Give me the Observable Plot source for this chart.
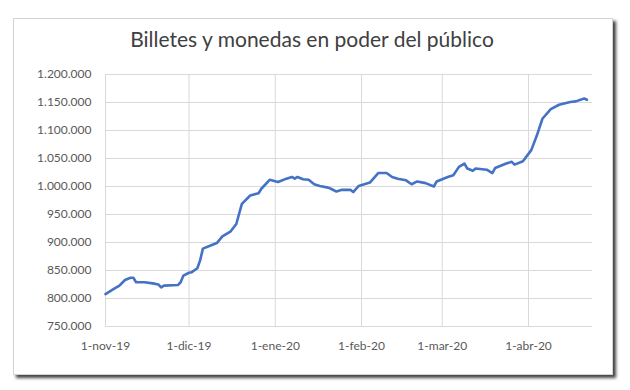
<!DOCTYPE html>
<html>
<head>
<meta charset="utf-8">
<script src="https://cdn.jsdelivr.net/npm/d3@7"></script>
<script src="https://cdn.jsdelivr.net/npm/@observablehq/plot@0.6"></script>
<style>
  html, body { margin: 0; padding: 0; background: #fff; }
  #wrap { position: relative; width: 630px; height: 390px; overflow: hidden; background: #fff; }
  #frame { position: absolute; left: 13px; top: 18px; width: 598px; height: 355px;
           border: 1px solid #d4d4d4; box-shadow: 3px 3px 3px #444; background: #fff; }
  #title { position: absolute; left: 0; top: 26px; width: 624px; text-align: center;
           font-family: Lato, "Open Sans", sans-serif; font-size: 21px; color: #404040; }
  #chart { position: absolute; left: 0; top: 60px; }
</style>
</head>
<body>
<div id="wrap">
  <div id="frame"></div>
  <div id="title">Billetes y monedas en poder del público</div>
  <div id="chart"></div>
</div>
<script>
// Series: fecha / billetes y monedas en poder del público (miles de $)
const dates = [
  "2019-11-01","2019-11-04","2019-11-06","2019-11-08","2019-11-10","2019-11-11","2019-11-12",
  "2019-11-15","2019-11-18","2019-11-20","2019-11-21","2019-11-22","2019-11-27","2019-11-28",
  "2019-11-29","2019-12-01","2019-12-02","2019-12-04","2019-12-05","2019-12-06","2019-12-09",
  "2019-12-11","2019-12-13","2019-12-16","2019-12-18","2019-12-20","2019-12-23","2019-12-26",
  "2019-12-27","2019-12-30","2020-01-02","2020-01-05","2020-01-07","2020-01-08","2020-01-09",
  "2020-01-11","2020-01-13","2020-01-15","2020-01-17","2020-01-20","2020-01-21","2020-01-23",
  "2020-01-25","2020-01-28","2020-01-29","2020-01-31","2020-02-04","2020-02-07","2020-02-10",
  "2020-02-12","2020-02-14","2020-02-17","2020-02-19","2020-02-21","2020-02-24","2020-02-27",
  "2020-02-28","2020-03-03","2020-03-05","2020-03-07","2020-03-09","2020-03-10","2020-03-12",
  "2020-03-13","2020-03-17","2020-03-19","2020-03-20","2020-03-24","2020-03-26","2020-03-27",
  "2020-03-30","2020-04-02","2020-04-04","2020-04-06","2020-04-09","2020-04-12","2020-04-16",
  "2020-04-18","2020-04-21","2020-04-22"
];
const values = [
  808000,817000,823000,833000,837000,837000,829000,
  829000,827000,825000,820000,823000,824000,829000,
  841000,846000,847000,854000,868000,889000,895000,
  899000,911000,920000,933000,969000,984000,988000,
  996000,1012000,1008000,1014000,1017000,1014000,1017000,
  1013000,1012000,1004000,1001000,998000,996000,991000,
  994000,994000,990000,1001000,1007000,1024000,1024000,
  1017000,1014000,1011000,1004000,1009000,1006000,1000000,
  1009000,1017000,1020000,1035000,1041000,1032000,1028000,
  1032000,1030000,1024000,1033000,1041000,1044000,1039000,
  1045000,1065000,1091000,1121000,1138000,1146000,1151000,
  1152000,1157000,1155000
];
const xTickDates = ["2019-11-01","2019-12-01","2020-01-01","2020-02-01","2020-03-01","2020-04-01"];
const xTickLabels = ["1-nov-19","1-dic-19","1-ene-20","1-feb-20","1-mar-20","1-abr-20"];
const yTicks = [750000,800000,850000,900000,950000,1000000,1050000,1100000,1150000,1200000];
const yTickLabels = ["750.000","800.000","850.000","900.000","950.000","1.000.000","1.050.000","1.100.000","1.150.000","1.200.000"];
const xDomain = ["2019-11-01","2020-04-24"];

const data = dates.map((d, i) => ({date: new Date(d), value: values[i]}));
const xt = xTickDates.map(d => new Date(d));
const labelOf = new Map(xt.map((d, i) => [+d, xTickLabels[i]]));
const yLabelOf = new Map(yTicks.map((v, i) => [v, yTickLabels[i]]));

const font = "Lato, 'Open Sans', sans-serif";
const chart = Plot.plot({
  width: 630,
  height: 300,
  marginTop: 14,
  marginBottom: 34,
  marginLeft: 105,
  marginRight: 38,
  style: {fontFamily: font, fontSize: "12px", color: "#595959", background: "transparent"},
  x: {type: "utc", domain: xDomain.map(d => new Date(d)), ticks: xt, tickFormat: d => labelOf.get(+d), label: null},
  y: {domain: [750000, 1200000], ticks: yTicks, tickFormat: v => yLabelOf.get(v), label: null},
  marks: [
    Plot.ruleY(yTicks, {stroke: "#d9d9d9", strokeWidth: 1}),
    Plot.ruleX(xt, {stroke: "#d9d9d9", strokeWidth: 1}),
    Plot.axisY({ticks: yTicks, tickFormat: v => yLabelOf.get(v), tickSize: 0, tickPadding: 14, fontSize: 12, fill: "#595959"}),
    Plot.axisX({ticks: xt, tickFormat: d => labelOf.get(+d), tickSize: 0, tickPadding: 15, fontSize: 12, fill: "#595959"}),
    Plot.line(data, {x: "date", y: "value", stroke: "#4472C4", strokeWidth: 2.6, curve: "linear"})
  ]
});
document.getElementById("chart").appendChild(chart);
</script>
</body>
</html>
